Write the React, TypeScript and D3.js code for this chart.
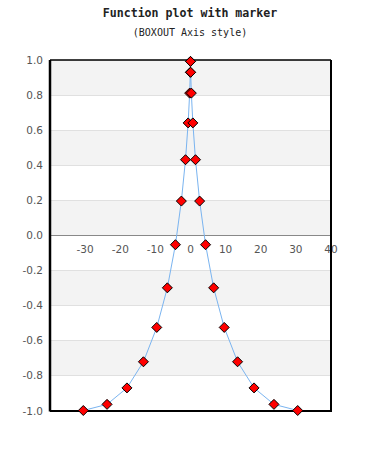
import React from "react";
import * as d3 from "d3";

const xValues = [-30.52, -23.76, -18.09, -13.4, -9.6, -6.59, -4.29, -2.6, -1.42, -0.67, -0.24, -0.05, -0.002,
  0.002, 0.05, 0.24, 0.67, 1.42, 2.6, 4.29, 6.59, 9.6, 13.4, 18.09, 23.76, 30.52];
const yValues = [-1.0, -0.965, -0.871, -0.722, -0.526, -0.3, -0.054, 0.195, 0.431, 0.641, 0.811, 0.93, 0.992,
  0.992, 0.93, 0.811, 0.641, 0.431, 0.195, -0.054, -0.3, -0.526, -0.722, -0.871, -0.965, -1.0];
const xTicks = [-30, -20, -10, 0, 10, 20, 30, 40];
const yTicks = [-1.0, -0.8, -0.6, -0.4, -0.2, 0.0, 0.2, 0.4, 0.6, 0.8, 1.0];

export default function App() {
  const W = 380, H = 450;
  const L = 50, R = 331, T = 60, B = 410.5;
  const x = d3.scaleLinear().domain([-40, 40]).range([L, R]);
  const y = d3.scaleLinear().domain([-1, 1]).range([B, T]);
  const pts = xValues.map((v, i) => [v, yValues[i]] as [number, number]);
  const line = d3.line<[number, number]>().x(d => x(d[0])).y(d => y(d[1]));
  const bands = yTicks.slice(0, -1).map((v, i) => ({ lo: v, hi: yTicks[i + 1], gray: i % 2 === 1 }));
  const lblFont = "DejaVu Sans, sans-serif";
  return (
    <svg width={W} height={H} style={{ position: "absolute", left: 0, top: 0 }}>
      <rect x={0} y={0} width={W} height={H} fill="#fff" />
      <text x={190} y={17} textAnchor="middle" fontFamily="DejaVu Sans Mono, monospace" fontWeight="bold" fontSize={11.6} fill="#222">Function plot with marker</text>
      <text x={190} y={36} textAnchor="middle" fontFamily="DejaVu Sans Mono, monospace" fontSize={10} fill="#222">(BOXOUT Axis style)</text>
      {bands.map((b, i) => (
        <rect key={i} x={L} y={y(b.hi)} width={R - L} height={y(b.lo) - y(b.hi)} fill={b.gray ? "#f3f3f3" : "#ffffff"} />
      ))}
      {yTicks.map((v, i) => (
        <line key={i} x1={L} x2={R} y1={Math.round(y(v)) + 0.5} y2={Math.round(y(v)) + 0.5} stroke="#e0e0e0" strokeWidth={1} />
      ))}
      <line x1={L} x2={R} y1={Math.round(y(0)) + 0.5} y2={Math.round(y(0)) + 0.5} stroke="#888" strokeWidth={1} />
      {xTicks.map((v, i) => (
        <text key={i} x={x(v)} y={y(0) + 18} textAnchor="middle" fontFamily={lblFont} fontSize={10.5} fill="#555">{v}</text>
      ))}
      {yTicks.map((v, i) => (
        <text key={i} x={43} y={y(v) + 4} textAnchor="end" fontFamily={lblFont} fontSize={10.5} fill="#555">{v.toFixed(1)}</text>
      ))}
      <path d={line(pts) || ""} fill="none" stroke="#7ab4f0" strokeWidth={1} />
      <line x1={L} x2={R} y1={T} y2={T} stroke="#000" strokeWidth={1.5} />
      <line x1={L} x2={L} y1={T} y2={B + 1} stroke="#000" strokeWidth={2.5} />
      <line x1={R} x2={R} y1={T} y2={B + 1} stroke="#000" strokeWidth={2} />
      <line x1={L} x2={R + 1} y1={B + 0.5} y2={B + 0.5} stroke="#000" strokeWidth={2} />
      {pts.map((p, i) => {
        const cx = x(p[0]), cy = y(p[1]), r = 5;
        return (
          <path key={i} d={`M${cx},${cy - r}L${cx + r},${cy}L${cx},${cy + r}L${cx - r},${cy}Z`} fill="#ff0000" stroke="#000" strokeWidth={1} strokeLinejoin="round" />
        );
      })}
    </svg>
  );
}
